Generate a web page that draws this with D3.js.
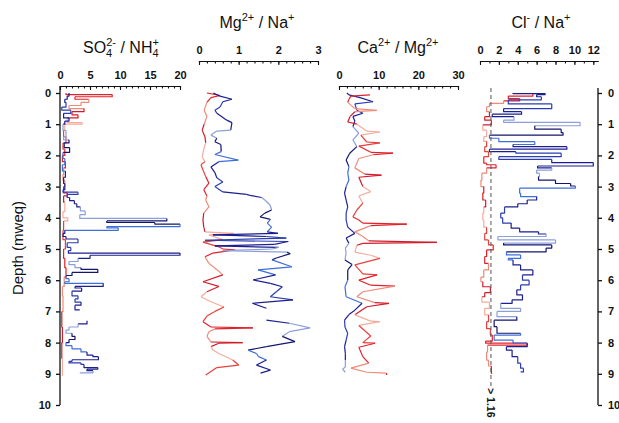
<!DOCTYPE html>
<html><head><meta charset="utf-8">
<script src="https://cdn.jsdelivr.net/npm/d3@7"></script>
<style>body{margin:0;background:#fff} svg{display:block} text{font-family:"Liberation Sans",Arial,sans-serif;fill:#111}</style>
</head><body><svg id="c" width="619" height="423"></svg>
<script>
// ---------- tick labels ----------
const depthTicks = [0,1,2,3,4,5,6,7,8,9,10];
const so4Ticks = [0,5,10,15,20];
const mgTicks = [0,1,2,3];
const caTicks = [0,10,20,30];
const clTicks = [0,2,4,6,8,10,12];
const clThreshold = 1.16;

// ---------- SO4 2- / NH4 + ----------
const so4RedDepth = [0,0.05,0.12,0.2,0.3,0.4,0.5,0.6,0.7,0.8,0.95,1.0,1.2,1.4,1.6,1.8,2.0,2.2,2.4,2.6,2.8,3.0,3.2,3.3,3.5,3.8,4.0,4.1,4.4,4.7,5.0,5.3,5.6,5.9,6.2,6.5,7.0,7.5,8.0,8.5,9.05];
const so4Red      = [1.0,8.7,2.5,4.8,3.5,1.5,4.0,2.0,3.0,1.2,3.7,0.8,0.6,1.0,0.5,0.8,0.4,0.9,0.6,0.5,0.8,0.6,1.2,0.6,0.8,0.5,1.3,0.6,0.5,0.9,0.6,0.8,1.0,0.7,0.4,0.5,0.3,0.4,0.3,0.4,0.3];
const so4BlueDepth = [0.0,0.1,0.2,0.3,0.45,0.55,0.65,0.8,0.9,1.0,1.2,1.4,1.5,1.6,1.75,1.9,2.1,2.3,2.5,2.7,2.9,3.1,3.18,3.25,3.35,3.45,3.55,3.65,3.78,3.9,4.02,4.1,4.15,4.2,4.28,4.32,4.4,4.5,4.6,4.68,4.8,4.95,5.05,5.13,5.2,5.3,5.4,5.5,5.6,5.65,5.75,5.85,5.95,6.05,6.1,6.2,6.25,6.35,6.5,6.6,6.7,6.8,6.95,7.1,7.3,7.4,7.5,7.6,7.7,7.8,7.9,8.0,8.1,8.2,8.3,8.4,8.45,8.55,8.6,8.65,8.7,8.8,8.85,8.9,8.97];
const so4Blue      = [1.5,1.2,0.8,1.0,0.3,1.8,0.6,1.5,0.8,0.5,1.0,0.6,1.5,0.7,1.6,0.5,0.8,0.4,0.9,0.6,0.8,0.5,3.0,1.2,1.6,2.4,2.8,3.4,4.2,3.3,17.8,7.8,15.8,20.0,7.8,9.7,0.8,0.5,1.0,3.0,1.2,1.8,1.4,20.0,5.0,3.0,1.5,2.5,3.5,6.3,2.0,1.0,1.5,0.8,7.2,2.5,3.6,2.0,3.0,2.5,3.5,2.5,3.3,null,4.5,3.0,1.5,1.0,2.0,2.5,1.5,1.0,2.0,3.5,4.5,5.5,6.4,2.0,1.5,3.5,4.0,6.3,4.5,5.5,3.3];

// ---------- Mg2+ / Na+ ----------
const mgRedDepth = [0.0,0.08,0.15,0.3,0.55,0.75,1.0,1.19,1.4,1.6,1.8,2.05,2.2,2.3,2.47,2.68,2.89,3.1,3.3,3.43,3.65,3.85,4.07,4.3,4.45,4.5,4.55,4.7,4.78,4.93,5.0,5.03,5.13,5.25,5.46,5.67,5.83,6.05,6.2,6.37,6.53,6.69,6.86,7.0,7.15,7.33,7.5,7.53,7.56,7.65,7.8,7.98,8.0,8.02,8.13,8.24,8.35,8.56,8.72,8.8,9.04];
const mgRed      = [0.2,0.53,0.3,0.2,0.13,0.2,0.13,0.08,0.15,0.17,0.12,0.08,0.15,0.05,0.1,0.17,0.25,0.12,0.2,0.17,0.25,0.12,0.1,0.12,0.15,0.87,0.25,0.6,0.1,0.5,0.6,0.9,0.35,0.15,0.25,0.46,0.6,0.1,0.5,0.2,0.05,0.3,0.63,0.4,0.2,0.1,0.3,1.36,0.4,0.25,0.2,0.3,1.1,0.5,0.3,0.35,0.5,0.85,1.0,0.45,0.17];
const mgBlueDepth = [0.0,0.1,0.2,0.28,0.45,0.55,0.65,0.87,0.95,1.19,1.22,1.35,1.45,1.56,1.65,1.88,1.97,2.15,2.2,2.37,2.55,2.72,2.85,3.0,3.17,3.25,3.28,3.35,3.43,3.59,3.75,3.85,3.97,4.05,4.17,4.3,4.45,4.5,4.55,4.6,4.65,4.72,4.76,4.85,4.9,4.95,5.0,5.05,5.1,5.15,5.29,5.35,5.57,5.67,5.83,5.99,6.1,6.21,6.37,6.53,6.63,6.74,6.9,7.1,7.28,7.38,7.53,7.65,7.8,7.97,8.13,8.24,8.35,8.45,8.56,8.72,8.88,8.98];
const mgBlue      = [0.36,0.53,0.83,0.6,0.53,0.4,0.45,0.7,0.83,0.8,0.45,0.3,0.45,0.4,0.55,0.56,0.4,0.99,0.5,0.3,0.4,0.45,0.6,0.4,0.6,1.2,1.28,1.58,1.66,1.79,1.83,1.66,1.54,1.8,1.72,1.83,1.72,1.99,0.35,1.7,2.2,0.15,2.25,1.9,0.4,2.0,1.85,0.6,2.22,2.3,1.95,1.84,2.34,1.49,1.93,1.37,1.8,2.1,1.95,1.8,2.37,1.35,1.7,null,1.7,2.28,2.8,2.28,2.1,2.42,1.7,1.24,1.45,1.5,1.7,1.45,1.8,1.55];

// ---------- Ca2+ / Mg2+ ----------
const caRedDepth = [0.06,0.1,0.2,0.3,0.5,0.56,0.6,0.75,0.93,1.0,1.22,1.25,1.35,1.57,1.6,1.7,1.9,1.93,1.98,2.1,2.4,2.6,2.63,2.7,3.0,3.16,3.3,3.53,3.75,3.97,4.07,4.17,4.2,4.25,4.45,4.6,4.74,4.79,4.82,4.88,5.1,5.2,5.3,5.51,5.8,5.83,6.0,6.16,6.19,6.37,6.53,6.72,6.74,6.85,7.11,7.31,7.33,7.45,7.79,8.0,8.02,8.15,8.45,8.66,8.82,8.95,8.98,9.04];
const caRed      = [7.8,3.0,2.5,2.2,4.0,9.5,4.0,2.8,2.2,4.5,7.0,10.3,5.5,7.0,10.3,5.0,8.0,13.6,8.6,5.0,4.0,6.5,10.7,5.0,6.0,8.0,5.0,6.0,4.5,3.5,5.0,6.0,17.1,8.0,4.0,6.0,7.5,24.7,6.0,4.5,4.0,8.0,10.3,4.0,6.0,9.6,5.0,8.0,14.1,6.0,4.5,9.0,12.6,7.0,4.0,8.0,10.3,5.0,8.0,6.0,9.1,5.0,6.0,7.5,3.0,7.0,12.0,12.0];
const caBlueDepth = [0.0,0.06,0.15,0.28,0.35,0.55,0.65,0.75,0.9,1.08,1.29,1.5,1.72,1.93,2.15,2.36,2.57,2.79,3.0,3.21,3.43,3.65,3.85,4.07,4.3,4.5,4.65,4.82,4.97,5.13,5.35,5.5,5.67,6.0,6.21,6.53,6.74,6.96,7.1,7.28,7.5,7.7,7.92,8.13,8.34,8.56,8.78,8.85,8.95];
const caBlue      = [2.0,2.5,5.3,8.6,4.0,4.5,6.0,3.5,4.0,3.5,5.0,3.5,4.5,2.7,1.8,2.5,2.2,2.5,1.8,1.4,1.8,2.2,1.8,1.8,2.2,4.0,1.8,2.5,1.6,1.8,1.5,3.3,2.2,2.2,1.5,1.8,5.8,4.0,2.5,1.4,1.5,2.2,1.8,1.4,1.6,1.6,1.6,0.9,1.6];

// ---------- Cl- / Na+ ----------
const clRedDepth = [0.0,0.1,0.18,0.25,0.33,0.44,0.6,0.76,0.87,1.02,1.19,1.4,1.55,1.72,1.88,2.04,2.25,2.3,2.4,2.57,2.79,3.0,3.2,3.43,3.65,3.85,4.07,4.3,4.5,4.71,4.87,5.03,5.24,5.46,5.67,5.9,6.05,6.21,6.4,6.53,6.7,6.9,7.11,7.33,7.55,7.76,7.95,8.02,8.08,8.3,8.56,8.75,8.98];
const clRed      = [5.6,3.0,4.2,2.5,1.0,0.7,1.0,0.5,1.2,0.3,0.7,0.4,0.7,0.5,0.9,0.4,0.7,1.7,0.7,0.2,0.1,0.4,0.3,0.6,0.4,0.3,0.4,0.7,0.5,0.9,1.4,0.7,0.5,0.9,0.4,0.1,0.3,1.1,0.5,0.2,1.0,0.5,0.9,0.7,1.1,1.3,0.6,5.0,0.8,0.7,0.9,1.2,1.3];
const clBlueDepth = [0.0,0.02,0.05,0.12,0.22,0.35,0.5,0.6,0.68,0.76,0.87,0.94,1.05,1.16,1.27,1.35,1.45,1.56,1.65,1.72,1.8,1.88,1.93,2.04,2.13,2.23,2.34,2.4,2.47,2.57,2.68,2.79,2.9,2.98,3.05,3.21,3.32,3.43,3.55,3.65,3.85,4.0,4.17,4.33,4.45,4.52,4.6,4.71,4.81,4.87,4.97,5.09,5.19,5.3,5.35,5.51,5.67,5.83,6.0,6.15,6.31,6.47,6.63,6.74,6.9,7.0,7.17,7.28,7.49,7.7,7.76,7.92,8.02,8.13,8.24,8.45,8.66,8.82,8.94];
const clBlue      = [3.5,6.9,6.0,6.5,3.0,7.6,2.5,4.4,1.3,3.6,2.5,10.6,5.8,8.6,8.8,1.0,2.0,5.8,3.5,9.2,1.0,3.8,8.6,2.0,7.6,12.0,6.1,7.6,6.0,6.3,6.2,8.0,9.6,10.1,4.2,4.3,6.0,5.0,4.0,2.6,2.2,2.4,3.3,4.2,6.2,7.0,1.9,8.0,2.5,7.6,7.0,2.8,4.3,3.0,3.5,4.3,5.6,4.5,5.2,4.3,3.9,4.5,3.4,2.2,4.3,1.8,3.9,1.5,1.8,4.3,1.5,3.5,5.0,2.8,3.4,4.0,4.3,4.6,4.3];

// ---------- drawing ----------
const svg = d3.select("#c");
const y = d3.scaleLinear().domain([0,10]).range([93,405]);
const bluePal = ["#1c1f8f","#2b3db0","#1c1f8f","#8d9fd9","#14166e","#3f6fd6"];
const redPal  = ["#e2212b","#f08a78","#d01c2a","#f4ad9c","#e8413c"];
const fmt = d3.format("~g");

const panels = [
  {x:d3.scaleLinear().domain([0,20]).range([60,180]), axisY:86, ticks:so4Ticks, minorStep:1, max:20,
   title:[["SO"],["4","sub"],["2-","supback"],[" / NH"],["4","sub"],["+","supback"]], tx:121, ty:53, curve:d3.curveStepBefore,
   series:[[so4RedDepth,so4Red,redPal],[so4BlueDepth,so4Blue,bluePal]]},
  {x:d3.scaleLinear().domain([0,3]).range([199,318]), axisY:61, ticks:mgTicks, minorStep:0.2, max:3,
   title:[["Mg"],["2+","sup"],[" / Na"],["+","sup"]], tx:257, ty:28, curve:d3.curveLinear,
   series:[[mgRedDepth,mgRed,redPal],[mgBlueDepth,mgBlue,bluePal]]},
  {x:d3.scaleLinear().domain([0,30]).range([339,458]), axisY:86, ticks:caTicks, minorStep:2, max:30,
   title:[["Ca"],["2+","sup"],[" / Mg"],["2+","sup"]], tx:398, ty:53, curve:d3.curveLinear,
   series:[[caBlueDepth,caBlue,bluePal],[caRedDepth,caRed,redPal]]},
  {x:d3.scaleLinear().domain([0,12.5]).range([480,598]), axisY:61, ticks:clTicks, minorStep:1, max:12,
   title:[["Cl"],["-","sup"],[" / Na"],["+","sup"]], tx:541, ty:28, curve:d3.curveStepBefore,
   series:[[clRedDepth,clRed,redPal],[clBlueDepth,clBlue,bluePal]]}
];

panels.forEach(p => {
  const minor = d3.range(0, p.max + 1e-9, p.minorStep);
  const gm = svg.append("g").attr("transform",`translate(0,${p.axisY})`)
    .call(d3.axisTop(p.x).tickValues(minor).tickSize(-2.5).tickSizeOuter(0).tickFormat(""));
  const ga = svg.append("g").attr("transform",`translate(0,${p.axisY})`)
    .call(d3.axisTop(p.x).tickValues(p.ticks).tickFormat(fmt).tickSize(-4).tickSizeOuter(0).tickPadding(7));
  [gm,ga].forEach(g=>{g.selectAll("path,line").attr("stroke","#111").attr("stroke-width",1.1);});
  ga.selectAll("text").attr("font-size",11).attr("font-weight","bold").attr("fill","#111");

  const t = svg.append("text").attr("x",p.tx).attr("y",p.ty).attr("text-anchor","middle").attr("font-size",16);
  let shift = 0;
  p.title.forEach(([s,k])=>{
    const ts = t.append("tspan").text(s);
    if (k==="sub"){ ts.attr("font-size",11).attr("dy",4-shift); shift=4; }
    else if (k==="sup"){ ts.attr("font-size",11).attr("dy",-7-shift); shift=-7; }
    else if (k==="supback"){ ts.attr("font-size",11).attr("dy",-7-shift).attr("dx",-6); shift=-7; }
    else { ts.attr("dy",-shift); shift=0; }
  });

  p.series.forEach(([dep,val,pal])=>{
    const pts = dep.map((d,i)=>({d, v:val[i]}));
    const line = d3.line().x(q=>p.x(q.v)).y(q=>y(q.d)).curve(p.curve);
    const segs = d3.pairs(pts).filter(([a,b])=>a.v!=null && b.v!=null);
    svg.append("g").selectAll("path").data(segs).join("path")
      .attr("d", line).attr("fill","none")
      .attr("stroke",(s,i)=>pal[Math.floor(i/3)%pal.length])
      .attr("stroke-width",1.2).attr("stroke-linejoin","round");
  });
});

// left depth axis
const gl = svg.append("g").attr("transform","translate(60,0)")
  .call(d3.axisLeft(y).tickValues(depthTicks).tickSize(4).tickSizeOuter(0).tickPadding(5));
gl.select(".domain").remove();
gl.append("line").attr("y1",86).attr("y2",y(10)).attr("stroke","#111").attr("stroke-width",1.3);
gl.selectAll("line").attr("stroke","#111").attr("stroke-width",1.3);
gl.selectAll("text").attr("font-size",11).attr("font-weight","bold").attr("fill","#111");

// right depth axis
const gr = svg.append("g").attr("transform","translate(598,0)")
  .call(d3.axisRight(y).tickValues(depthTicks).tickSize(4).tickSizeOuter(0).tickPadding(6));
gr.select(".domain").remove();
gr.append("line").attr("y1",88).attr("y2",y(10)).attr("stroke","#111").attr("stroke-width",1.3);
gr.selectAll("line").attr("stroke","#111").attr("stroke-width",1.3);
gr.selectAll("text").attr("font-size",11).attr("font-weight","bold").attr("fill","#111");

// y label
svg.append("text").attr("transform","translate(23,248) rotate(-90)").attr("text-anchor","middle")
  .attr("font-size",15).text("Depth (mweq)");

// Cl/Na threshold dashed line
const clx = panels[3].x;
svg.append("line").attr("x1",clx(clThreshold)).attr("x2",clx(clThreshold))
  .attr("y1",88).attr("y2",387).attr("stroke","#555").attr("stroke-width",1).attr("stroke-dasharray","4,3");
svg.append("text").attr("transform",`translate(${clx(clThreshold)-3.5},388) rotate(90)`)
  .attr("font-size",10.5).attr("font-weight","bold").text("> 1.16");
</script></body></html>
